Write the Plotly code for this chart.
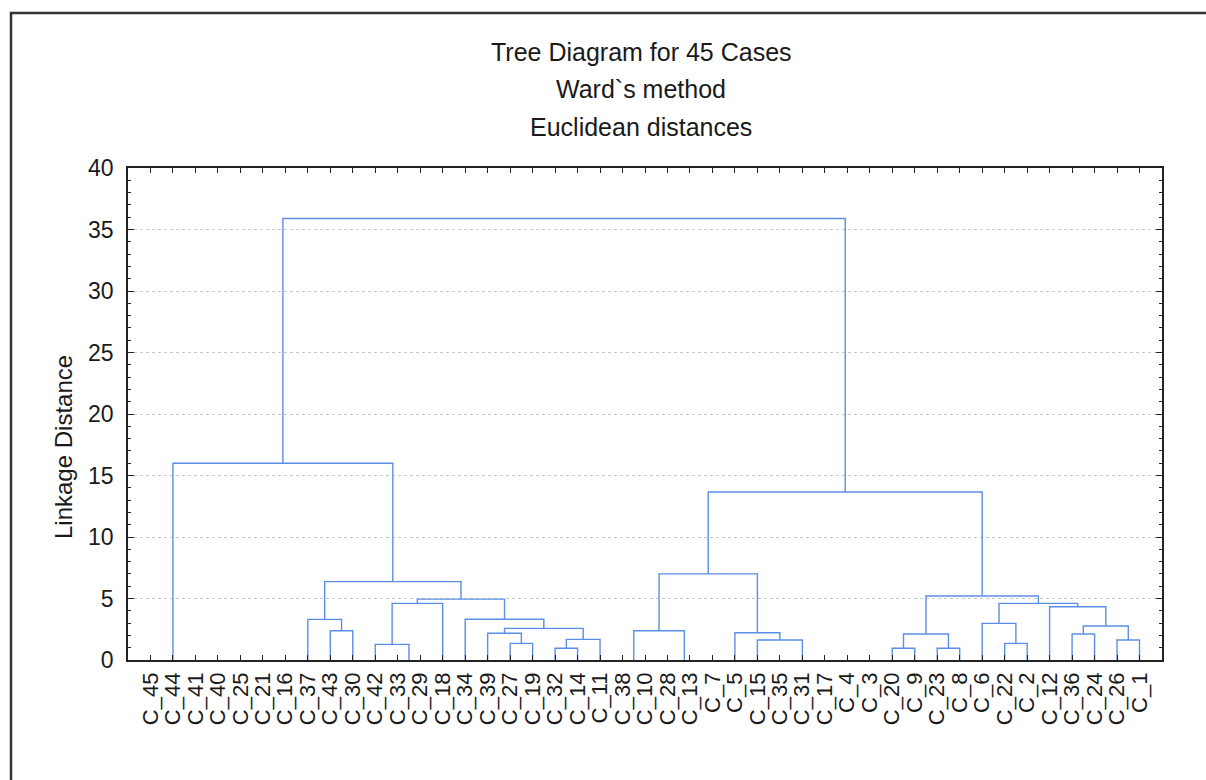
import plotly.graph_objects as go

# ---- data ----
leaves = ["C_45", "C_44", "C_41", "C_40", "C_25", "C_21", "C_16", "C_37", "C_43", "C_30",
          "C_42", "C_33", "C_29", "C_18", "C_34", "C_39", "C_27", "C_19", "C_32", "C_14",
          "C_11", "C_38", "C_10", "C_28", "C_13", "C_7", "C_5", "C_15", "C_35", "C_31",
          "C_17", "C_4", "C_3", "C_20", "C_9", "C_23", "C_8", "C_6", "C_22", "C_2",
          "C_12", "C_36", "C_24", "C_26", "C_1"]

# merges: node name, left child, right child, linkage distance
node_names = ["Z1", "Z2", "Z3", "Z4", "Z5", "Z6", "Z7", "Z8", "Z9", "Z10", "Z11", "Z12",
              "A1", "A2", "B1", "B2", "D1", "D2", "E1", "E2", "D3", "D4", "B3", "L1", "L",
              "F1", "G1", "G2", "F2", "H1", "H2", "H3", "I1", "I2", "J1", "J2", "J3", "J4",
              "I3", "K", "R", "TOP"]
left_child = ["C_25", "C_21", "C_40", "C_41", "C_44", "C_45", "C_33", "C_38", "C_13", "C_28", "C_35", "C_31",
              "C_43", "C_37", "C_42", "B1", "C_27", "C_39", "C_32", "E1", "D2", "C_34", "B2", "A2", "Z6",
              "Z8", "C_15", "C_5", "F1", "C_20", "C_23", "H1", "C_22", "C_6", "C_36", "C_26", "J1", "C_12",
              "I2", "H3", "F2", "L"]
right_child = ["C_16", "Z1", "Z2", "Z3", "Z4", "Z5", "C_29", "C_10", "C_7", "Z9", "C_17", "Z11",
               "C_30", "A1", "Z7", "C_18", "C_19", "D1", "C_14", "C_11", "E2", "D3", "D4", "B3", "L1",
               "Z10", "Z12", "G1", "G2", "C_9", "C_8", "H2", "C_2", "I1", "C_24", "C_1", "J2", "J3",
               "J4", "I3", "K", "R"]
heights = [0, 0, 0, 0, 0, 0, 0, 0, 0, 0, 0, 0,
           2.38, 3.3, 1.27, 4.6, 1.35, 2.17, 0.95, 1.68, 2.57, 3.31, 4.95, 6.37, 16.0,
           2.38, 1.63, 2.22, 7.0, 0.95, 0.95, 2.11, 1.35, 2.98, 2.11, 1.63, 2.76, 4.33,
           4.6, 5.2, 13.66, 35.9]

title_lines = ["Tree Diagram for 45 Cases", "Ward`s method", "Euclidean distances"]
y_title = "Linkage Distance"

# ---- build dendrogram segments ----
pos = {name: i + 1 for i, name in enumerate(leaves)}
hgt = {name: 0.0 for name in leaves}
xs, ys = [], []
for n, a, b, h in zip(node_names, left_child, right_child, heights):
    xa, xb = pos[a], pos[b]
    pos[n] = (xa + xb) / 2
    hgt[n] = h
    if h > 0:
        xs += [xa, xa, xb, xb, None]
        ys += [hgt[a], h, h, hgt[b], None]

line_col = "#5b8ee6"
fig = go.Figure()
fig.add_trace(go.Scatter(x=xs, y=ys, mode="lines",
                         line=dict(color=line_col, width=1.4),
                         hoverinfo="skip", showlegend=False))

W, H = 1206, 780
L_, R_, T_, B_ = 128, 44, 168, 120
pw, ph = W - L_ - R_, H - T_ - B_

def px(x):
    return (x - L_) / pw

def py(y):
    return (H - B_ - y) / ph

font = "Liberation Sans, Arial, sans-serif"
ink = "#1a1a1a"
ann = []
for txt, yy in zip(title_lines, [52, 89, 127]):
    ann.append(dict(text=txt, x=px(641), y=py(yy), xref="paper", yref="paper",
                    showarrow=False, font=dict(family=font, size=25, color=ink),
                    xanchor="center", yanchor="middle"))
ann.append(dict(text=y_title, x=px(63), y=py(447), xref="paper", yref="paper",
                showarrow=False, textangle=-90,
                font=dict(family=font, size=24, color=ink),
                xanchor="center", yanchor="middle"))

fig.update_layout(
    width=W, height=H,
    margin=dict(l=L_, r=R_, t=T_, b=B_),
    paper_bgcolor="white", plot_bgcolor="white",
    annotations=ann,
    shapes=[dict(type="rect", xref="paper", yref="paper",
                 x0=px(11), x1=px(1215), y0=py(13), y1=py(800),
                 line=dict(color="#333", width=2.5), layer="below")],
    xaxis=dict(range=[0, 46], tickmode="array",
               tickvals=list(range(1, len(leaves) + 1)), ticktext=leaves,
               tickangle=-90, ticks="inside", ticklen=5, tickcolor="#222",
               showline=True, linecolor="#222", linewidth=1.5, mirror="ticks",
               showgrid=False, zeroline=False, ticklabelstandoff=2,
               tickfont=dict(family=font, size=22, color=ink)),
    yaxis=dict(range=[0, 40], tickmode="linear", tick0=0, dtick=5,
               ticks="inside", ticklen=6, tickcolor="#222",
               showline=True, linecolor="#222", linewidth=1.5, mirror="ticks",
               showgrid=True, gridcolor="#c8c8c8", griddash="dot", gridwidth=1,
               zeroline=False, ticklabelstandoff=8,
               minor=dict(dtick=1, ticks="inside", ticklen=3, tickcolor="#222", showgrid=False),
               tickfont=dict(family=font, size=23, color=ink)),
)

fig.write_html("out.html")
